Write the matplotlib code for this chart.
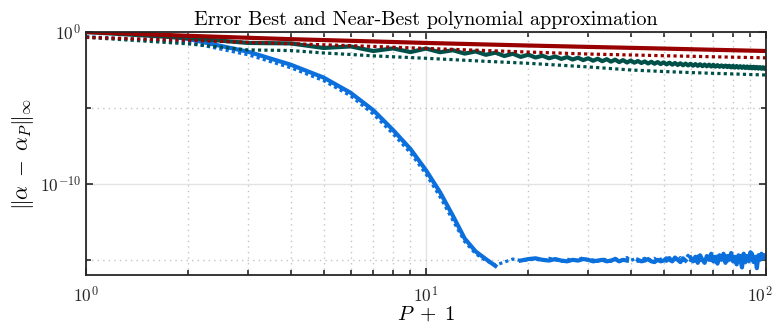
import numpy as np
import matplotlib
matplotlib.use("Agg")
import matplotlib.pyplot as plt
import matplotlib.transforms as mtransforms
from matplotlib.ticker import FixedLocator, NullFormatter

plt.rcParams['font.family'] = ['cmr10', 'DejaVu Serif']
plt.rcParams['mathtext.fontset'] = 'cm'
plt.rcParams['axes.formatter.use_mathtext'] = True

# x axis: P + 1
P1 = np.arange(1, 101)

# blue: best (solid) and near-best (dotted), log10 of the error
blue_best_exp = [
    0.40, -0.46, -1.30, -2.15, -3.00, -4.00, -5.15, -6.45, -7.70, -9.10,
    -10.55, -12.10, -13.60, -14.45, -14.95, -15.40, np.nan, np.nan, -15.05, -14.95,
    -14.90, -15.00, -15.05, -14.95, -15.05, -15.10, -15.00, -15.05, -14.95, -15.00,
    -15.10, -15.05, -15.00, -15.10, -15.05, -14.95, -15.10, -15.00, -15.05, np.nan,
    np.nan, -15.00, -15.10, -15.05, -14.95, -15.10, -15.15, -15.00, -15.10, -15.05,
    -14.90, -15.00, -15.10, -14.85, -15.00, -15.15, -14.90, -15.05, np.nan, -14.85,
    -15.10, -14.80, -15.20, -14.70, -15.00, -15.20, -14.75, -15.00, -14.60, -15.10,
    -14.80, -15.25, -14.70, -15.00, -14.60, -15.20, -14.75, -15.00, -14.55, -15.10,
    -14.80, -15.30, -14.70, -14.90, -15.50, -14.60, -15.00, -14.75, -15.10, -14.50,
    -14.90, -15.15, -14.80, -15.55, -14.70, -15.00, -14.60, -14.90, -14.70, -14.80,
]
blue_near_exp = [
    -0.30, -0.68, -1.50, -2.35, -3.20, -4.20, -5.40, -6.70, -7.95, -9.35,
    -10.85, -12.40, -13.80, -14.60, -15.05, -15.35, -15.15, -14.95, -15.05, -15.00,
    -14.95, -15.05, -14.90, -15.00, -15.10, -14.95, -15.05, -15.00, -14.85, -15.05,
    -15.00, -15.10, -14.95, -15.00, -15.10, -14.90, -15.05, -15.00, -14.85, -15.05,
    -14.95, -15.10, -15.00, -14.90, -15.05, -15.00, -14.90, -15.10, -14.95, -15.00,
    -15.10, -14.85, -15.05, -14.95, -15.10, -14.85, -15.05, -14.95, -14.70, -15.05,
    -14.90, -15.10, -14.75, -15.05, -14.85, -14.95, -15.10, -14.70, -15.05, -14.80,
    -15.15, -14.75, -15.00, -14.65, -15.10, -14.80, -15.20, -14.60, -15.00, -14.75,
    -15.15, -14.65, -15.00, -14.55, -14.95, -14.80, -15.20, -14.60, -14.85, -15.05,
    -14.55, -14.90, -14.65, -15.00, -14.75, -14.60, -14.90, -14.70, -14.85, -14.75,
]

# teal: best (solid, odd/even zigzag) and near-best (dotted)
teal_best_exp = [
    0.00, -0.40, -0.72, -0.75, -1.05, -0.95, -1.25, -1.08, -1.32, -1.09,
    -1.33, -1.20, -1.42, -1.28, -1.50, -1.36, -1.58, -1.43, -1.64, -1.49,
    -1.68, -1.56, -1.73, -1.61, -1.77, -1.65, -1.81, -1.69, -1.85, -1.73,
    -1.89, -1.76, -1.92, -1.79, -1.95, -1.82, -1.98, -1.85, -2.01, -1.88,
    -2.02, -1.91, -2.04, -1.94, -2.07, -1.96, -2.09, -1.98, -2.11, -2.00,
    -2.13, -2.02, -2.15, -2.04, -2.17, -2.06, -2.19, -2.08, -2.20, -2.09,
    -2.22, -2.11, -2.23, -2.12, -2.25, -2.14, -2.26, -2.15, -2.27, -2.16,
    -2.28, -2.18, -2.29, -2.20, -2.30, -2.21, -2.31, -2.22, -2.33, -2.23,
    -2.34, -2.24, -2.35, -2.25, -2.36, -2.26, -2.37, -2.27, -2.38, -2.28,
    -2.39, -2.29, -2.40, -2.30, -2.41, -2.31, -2.42, -2.32, -2.43, -2.33,
]
teal_near_x = [1, 2, 3, 4, 5, 6, 7, 8, 10, 12, 15, 20, 25, 30, 40, 50, 60, 70, 80, 90, 100]
teal_near_exp = [-0.35, -0.78, -1.18, -1.22, -1.38, -1.48, -1.57, -1.63, -1.73, -1.82, -1.93,
                 -2.06, -2.19, -2.30, -2.50, -2.60, -2.67, -2.72, -2.76, -2.80, -2.83]

# dark red: best (solid) and near-best (dotted)
red_x = [1, 2, 3, 4, 5, 7, 10, 15, 20, 30, 50, 70, 100]
red_best_exp = [0.00, -0.25, -0.38, -0.47, -0.53, -0.62, -0.72, -0.82, -0.89, -0.98, -1.09, -1.17, -1.25]
red_near_exp = [-0.35, -0.55, -0.68, -0.77, -0.84, -0.95, -1.08, -1.22, -1.32, -1.45, -1.56, -1.63, -1.70]

blue = '#0b6fdc'
teal = '#00504a'
red = '#990000'
dot = (0, (1, 1))

fig = plt.figure(figsize=(7.76, 3.24), dpi=100)
ax = fig.add_axes([0.1108, 0.1512, 0.8763, 0.75])

ax.plot(P1, 10.0 ** np.array(blue_best_exp), color=blue, lw=3)
ax.plot(P1, 10.0 ** np.array(blue_near_exp), color=blue, lw=2.3, ls=dot)
ax.plot(P1, 10.0 ** np.array(teal_best_exp), color=teal, lw=3)
ax.plot(teal_near_x, 10.0 ** np.array(teal_near_exp), color=teal, lw=2.3, ls=dot)
ax.plot(red_x, 10.0 ** np.array(red_best_exp), color=red, lw=3)
ax.plot(red_x, 10.0 ** np.array(red_near_exp), color=red, lw=2.3, ls=dot)

ax.set_xscale('log')
ax.set_yscale('log')
ax.set_xlim(1, 100)
ax.set_ylim(1e-16, 1e0)

# ticks, MATLAB-like
ax.xaxis.set_major_locator(FixedLocator([1, 10, 100]))
ax.set_xticklabels([r'$10^{0}$', r'$10^{1}$', r'$10^{2}$'])
ax.xaxis.set_minor_locator(FixedLocator([2, 3, 4, 5, 6, 7, 8, 9, 20, 30, 40, 50, 60, 70, 80, 90]))
ax.xaxis.set_minor_formatter(NullFormatter())
ax.yaxis.set_major_locator(FixedLocator([1e-10, 1e0]))
ax.set_yticklabels([r'$10^{-10}$', r'$10^{0}$'])
ax.yaxis.set_minor_locator(FixedLocator([1e-15, 1e-5]))
ax.yaxis.set_minor_formatter(NullFormatter())

ax.tick_params(which='both', direction='in', top=True, right=True, colors='#262626',
               labelsize=12.5, width=1.2)
ax.tick_params(which='major', length=5)
ax.tick_params(which='minor', length=3.5)
ax.tick_params(axis='x', pad=7)

# keep the last x label inside the figure
last = ax.get_xticklabels()[-1]
last.set_transform(last.get_transform() + mtransforms.ScaledTranslation(-6 / 100, 0, fig.dpi_scale_trans))

ax.grid(which='major', color='#e3e3e3', lw=1.0, ls='-')
ax.grid(which='minor', color='#c4c4c4', lw=1.0, ls=(0, (1, 3)))
ax.set_axisbelow(True)
for s in ax.spines.values():
    s.set_color('#262626')
    s.set_linewidth(1.3)

ax.set_title('Error Best and Near-Best polynomial approximation', fontsize=14.5, pad=5)
ax.set_xlabel(r'$P\;+\;1$', fontsize=15, labelpad=0)
ax.set_ylabel(r'$\|\alpha\;-\;\alpha_P\|_\infty$', fontsize=15.5, labelpad=3)

fig.savefig('out.png', dpi=100)
